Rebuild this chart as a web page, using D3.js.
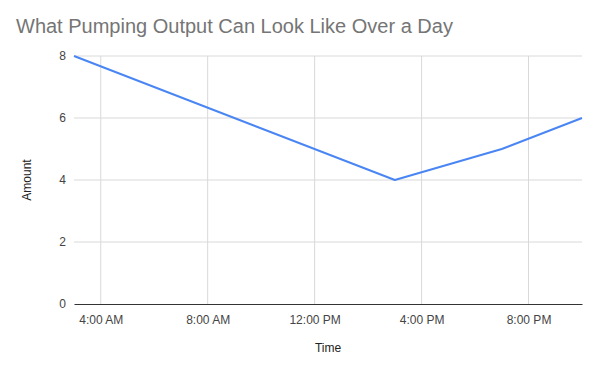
<!DOCTYPE html>
<html>
<head>
<meta charset="utf-8">
<script src="https://cdn.jsdelivr.net/npm/d3@7"></script>
<style>
  body { margin: 0; background: #fff; }
  svg { display: block; font-family: Arial, "Liberation Sans", sans-serif; }
</style>
</head>
<body>
<div id="chart"></div>
<script>
// hours of the day (24h clock) and pumped amount
const hours = [3, 15, 19, 22];
const amounts = [8, 4, 5, 6];
const tickHours = [4, 8, 12, 16, 20];
const yTicks = [0, 2, 4, 6, 8];

const width = 600, height = 370;
const margin = {top: 56, right: 18, bottom: 66, left: 74};

const day = h => new Date(2020, 0, 1, h, 0, 0);

const svg = d3.select("#chart").append("svg")
    .attr("width", width)
    .attr("height", height);

const x = d3.scaleTime()
    .domain([day(3), day(22)])
    .range([margin.left, width - margin.right]);

const y = d3.scaleLinear()
    .domain([0, 8])
    .range([height - margin.bottom, margin.top]);

// gridlines
svg.append("g")
  .selectAll("line")
  .data(yTicks.filter(d => d > 0))
  .join("line")
    .attr("x1", margin.left)
    .attr("x2", width - margin.right)
    .attr("y1", d => y(d))
    .attr("y2", d => y(d))
    .attr("stroke", "#d9d9d9");

svg.append("g")
  .selectAll("line")
  .data(tickHours)
  .join("line")
    .attr("x1", d => x(day(d)))
    .attr("x2", d => x(day(d)))
    .attr("y1", margin.top)
    .attr("y2", height - margin.bottom)
    .attr("stroke", "#d9d9d9");

// x axis
const fmt = d3.timeFormat("%-I:%M %p");
const xAxis = svg.append("g")
    .attr("transform", `translate(0,${height - margin.bottom})`)
    .call(d3.axisBottom(x).tickValues(tickHours.map(day)).tickFormat(fmt).tickSize(0).tickPadding(11));
xAxis.select(".domain").attr("stroke", "#333").attr("stroke-width", 1.2);
xAxis.selectAll("text").attr("font-size", 12).attr("fill", "#444").attr("font-family", null);

// y axis
const yAxis = svg.append("g")
    .attr("transform", `translate(${margin.left},0)`)
    .call(d3.axisLeft(y).tickValues(yTicks).tickSize(0).tickPadding(8));
yAxis.select(".domain").remove();
yAxis.selectAll("text").attr("font-size", 12).attr("fill", "#444").attr("font-family", null);

// line
const line = d3.line()
    .x((d, i) => x(day(hours[i])))
    .y(d => y(d));

svg.append("path")
    .datum(amounts)
    .attr("fill", "none")
    .attr("stroke", "#4a86f3")
    .attr("stroke-width", 2)
    .attr("stroke-linejoin", "round")
    .attr("d", line);

// title
svg.append("text")
    .attr("x", 16)
    .attr("y", 33)
    .attr("font-size", 20)
    .attr("fill", "#757575")
    .text("What Pumping Output Can Look Like Over a Day");

// axis titles
svg.append("text")
    .attr("x", (margin.left + width - margin.right) / 2)
    .attr("y", 352)
    .attr("text-anchor", "middle")
    .attr("font-size", 12)
    .attr("fill", "#222")
    .text("Time");

svg.append("text")
    .attr("transform", `translate(31,${(margin.top + height - margin.bottom) / 2}) rotate(-90)`)
    .attr("text-anchor", "middle")
    .attr("font-size", 12)
    .attr("fill", "#222")
    .text("Amount");
</script>
</body>
</html>
